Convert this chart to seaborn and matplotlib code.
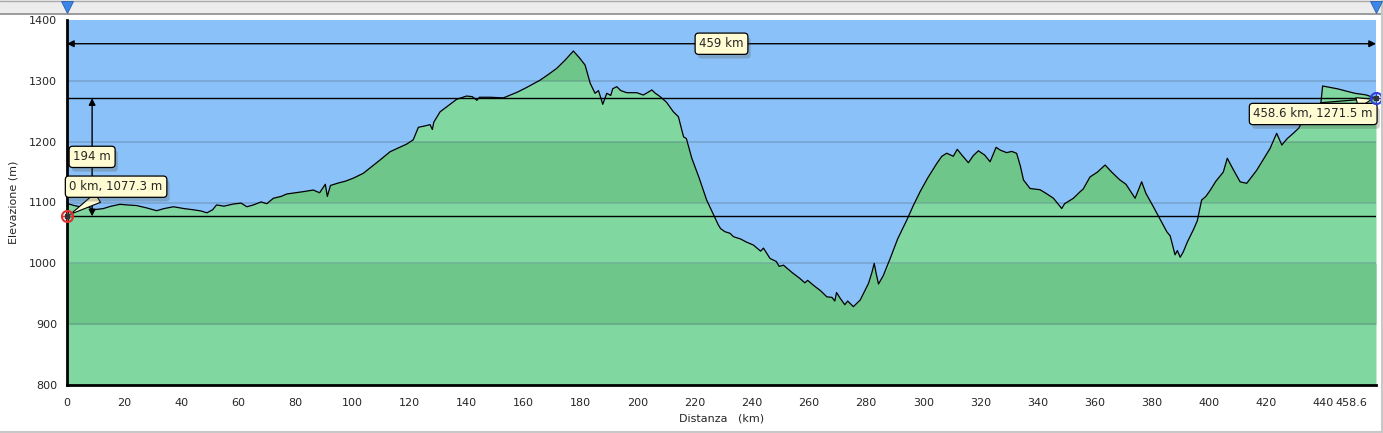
import matplotlib
matplotlib.use("Agg")
import matplotlib.pyplot as plt
import matplotlib.patheffects as pe
import matplotlib.transforms as mtransforms
from matplotlib.lines import Line2D
from matplotlib.patches import Rectangle
import numpy as np
import seaborn as sns

# profilo altimetrico (km, m)
distanza_km = [
    0.0, 0.3, 2.5, 4.6, 6.5, 9.2, 12.7, 15.5, 18.6, 21, 24.4, 28, 31.4, 34, 37.3, 41, 44.3, 47, 49, 51,
    52.4, 55, 58.3, 61, 63, 65.3, 68, 70, 72.3, 75, 77, 80, 83, 86.3, 88.5, 90.5, 91.2, 92.3, 95, 97.5,
    100.3, 103.8, 107, 109.7, 113.2, 116.7, 119, 121.3, 123.1, 125.5, 127.2, 128, 128.5, 130.7, 133.5,
    136.5, 140, 142, 143.6, 144.5, 148.2, 152.9, 155, 157.6, 161, 165.7, 168.5, 171.6, 174.5, 177.4,
    179.5, 181.5, 183.3, 185, 186.2, 187.7, 188.5, 189.1, 190.5, 191.2, 192.6, 194, 196.1, 199.6, 201.9,
    203.5, 204.9, 206, 207.8, 210, 212.4, 214.2, 216, 217, 218.9, 221.5, 224.1, 225, 226.5, 228.2, 229,
    230.5, 232.3, 233.5, 236, 238, 240.5, 243, 244, 246.3, 248.5, 249.5, 251, 254, 256.8, 258.5, 259.5,
    261.5, 264, 266.2, 268, 269, 269.6, 270.9, 272.5, 273.5, 275.5, 277.9, 280.8, 282, 282.8, 283.5,
    284.3, 286, 288.4, 291, 294.2, 296.5, 298.9, 301.5, 304.7, 306.5, 308.2, 310.5, 311.9, 313.5, 315.8,
    317.5, 319.3, 321.5, 323.4, 325.5, 327, 329.2, 331, 332.7, 334, 335.1, 337.4, 340.9, 343, 345.6,
    347.3, 348.5, 349.5, 352.6, 355, 356, 358.4, 361, 363.7, 366, 368.9, 371, 374.2, 376.5, 378, 380.6,
    383, 385.3, 386.5, 388.2, 389, 390, 391.1, 392.5, 394.6, 396, 397.5, 399, 400.5, 402.5, 405.1, 406.5,
    408.5, 411, 413.3, 416.8, 419, 421.5, 423.8, 425.6, 427.5, 429.6, 431.5, 433.1, 435.5, 437.8, 439.3,
    439.9, 445, 451.2, 455, 457.6, 458.6,
]
quota_m = [
    1077.3, 1098, 1095, 1093, 1096, 1088, 1090, 1094, 1097, 1096, 1095, 1091, 1086.5, 1090, 1093, 1090, 1088, 1086, 1083, 1088,
    1096, 1094, 1097.5, 1099, 1093, 1096, 1101, 1098, 1107, 1110, 1114, 1116, 1118, 1120.5, 1116, 1130, 1110, 1128, 1132, 1135,
    1140, 1148, 1160, 1170, 1183.5, 1191, 1196, 1203, 1223.6, 1226, 1228, 1220, 1232, 1249, 1259,
    1269.6, 1275, 1274, 1268, 1273, 1273, 1272, 1276, 1281, 1289, 1301, 1310, 1320.6, 1334, 1349,
    1338, 1326, 1296, 1279.5, 1284, 1261.4, 1272, 1279.5, 1276, 1287, 1290.4, 1284, 1280.5, 1280.5, 1276.7,
    1281, 1285, 1280, 1274, 1265, 1249.3, 1241, 1208, 1205, 1172.7, 1140, 1104, 1095, 1080, 1063, 1057,
    1052, 1049.3, 1043.8, 1040, 1035, 1030, 1020, 1025, 1008, 1003, 995, 997, 985, 975, 968, 972,
    964, 955, 945, 944, 938, 952, 942.5, 932, 938, 928.8, 939.7, 967, 985, 1000, 983,
    966, 980, 1008, 1040, 1071, 1095, 1118, 1140, 1164, 1176, 1181, 1176, 1187.4, 1178, 1165.4,
    1177, 1185, 1178, 1167, 1190.7, 1186, 1182, 1184, 1180.8, 1160, 1137, 1123, 1121, 1115, 1107,
    1097, 1090, 1098, 1107, 1118, 1122, 1142, 1150, 1161.6, 1150, 1137, 1130, 1107, 1134, 1115, 1093,
    1072, 1052, 1045, 1014, 1021, 1010, 1019, 1035, 1055, 1070, 1104, 1110, 1120, 1135, 1150, 1172.7,
    1155, 1134, 1131.5, 1153, 1170, 1189, 1213.7, 1194.5, 1205, 1213.7, 1222, 1235.6, 1248, 1257.5, 1264,
    1291.5, 1287, 1279.5, 1277, 1273, 1271.5,
]
# tratto di rientro della traccia
rientro_km = [439.3, 458.6]
rientro_m = [1264, 1271.5]

inizio = (0.0, 1077.3)
fine = (458.6, 1271.5)
dislivello = 194
lunghezza = 459

xticks = [0, 20, 40, 60, 80, 100, 120, 140, 160, 180, 200, 220, 240, 260, 280, 300, 320, 340, 360, 380, 400, 420, 440, 458.6]
xtick_labels = ['0', '20', '40', '60', '80', '100', '120', '140', '160', '180', '200', '220', '240', '260', '280',
                '300', '320', '340', '360', '380', '400', '420', '440', '458.6']
yticks = [800, 900, 1000, 1100, 1200, 1300, 1400]

sns.set_style('white')
plt.rcParams['font.family'] = ['DejaVu Sans']

x = np.array(distanza_km)
y = np.array(quota_m)

fig = plt.figure(figsize=(13.83, 4.33), dpi=100)
ax = fig.add_axes([67 / 1383, 1 - 385 / 433, (1376 - 67) / 1383, (385 - 20) / 433])
ax.set_facecolor('#8bc1f9')

verde_chiaro = '#80d8a0'
verde_scuro = '#6ec68b'
ax.fill_between(x, 800, y, color=verde_chiaro, lw=0, zorder=1)
for lo, hi in [(900, 1000), (1100, 1200), (1300, 1400)]:
    ax.fill_between(x, lo, np.minimum(y, hi), where=y > lo, interpolate=True,
                    color=verde_scuro, lw=0, zorder=1.2)

for yy in yticks[1:-1]:
    ax.axhline(yy, color='#4f6b80', alpha=0.3, lw=1.3, zorder=1.5)

sns.lineplot(x=x, y=y, sort=False, estimator=None, color='black', lw=0.9, ax=ax, zorder=3)
ax.plot(rientro_km, rientro_m, color='black', lw=0.9, zorder=3)

# linee di riferimento
ax.axhline(inizio[1], color='black', lw=1, zorder=4)
ax.axhline(fine[1], color='black', lw=1, zorder=4)

ax.annotate('', xy=(fine[0], 1361), xytext=(0, 1361),
            arrowprops=dict(arrowstyle='<|-|>', color='black', lw=1, shrinkA=0, shrinkB=0,
                            mutation_scale=10), zorder=5)
ax.annotate('', xy=(8.8, fine[1]), xytext=(8.8, inizio[1]),
            arrowprops=dict(arrowstyle='<|-|>', color='black', lw=1, shrinkA=0, shrinkB=0,
                            mutation_scale=10), zorder=5)

box = dict(boxstyle='round,pad=0.35,rounding_size=0.3', fc='#fffbd2', ec='black', lw=0.9)
ombra = [pe.withSimplePatchShadow(offset=(2, -3), alpha=0.25)]

t1 = ax.text(229.3, 1361, f'{lunghezza} km', ha='center', va='center', fontsize=8.5, bbox=box, zorder=6)
t2 = ax.text(8.8, 1175, f'{dislivello} m', ha='center', va='center', fontsize=8.5, bbox=box, zorder=6)
t3 = ax.annotate(f'{inizio[0]:g} km, {inizio[1]} m', xy=inizio, xytext=(17.2, 1126), ha='center', va='center',
                 fontsize=8.5, bbox=box, zorder=6,
                 arrowprops=dict(arrowstyle='wedge,tail_width=0.9', fc='#fffbd2', ec='black', lw=0.8,
                                 shrinkA=0, shrinkB=3))
t4 = ax.annotate(f'{fine[0]} km, {fine[1]} m', xy=fine, xytext=(436.6, 1245.5), ha='center', va='center',
                 fontsize=8.5, bbox=box, zorder=6,
                 arrowprops=dict(arrowstyle='wedge,tail_width=0.9', fc='#fffbd2', ec='black', lw=0.8,
                                 shrinkA=0, shrinkB=3))
for t in (t1, t2, t3, t4):
    t.get_bbox_patch().set_path_effects(ombra)

# marcatori inizio / fine
for (px, py), col in [(inizio, '#e03030'), (fine, '#3040e0')]:
    ax.plot(px, py, marker='o', ms=8, mfc='none', mec=col, mew=1.5, clip_on=False, zorder=7)
    ax.plot(px, py, marker='+', ms=8, color=col, mew=1, clip_on=False, zorder=7)
    ax.plot(px, py, marker='s', ms=2.5, color='#333333', clip_on=False, zorder=8)

ax.set_xlim(0, 458.6)
ax.set_ylim(800, 1400)
ax.set_xticks(xticks)
ax.set_xticklabels(xtick_labels)
ax.set_yticks(yticks)
ax.tick_params(axis='both', labelsize=8, length=4, width=1.5, direction='out', color='black', pad=3)
ax.tick_params(axis='x', pad=5)
# l'ultima etichetta è spostata a sinistra per restare nel riquadro
ultima = ax.get_xticklabels()[-1]
ultima.set_transform(ultima.get_transform() + mtransforms.ScaledTranslation(-0.25, 0, fig.dpi_scale_trans))
for s in ['top', 'right']:
    ax.spines[s].set_visible(False)
for s in ['left', 'bottom']:
    ax.spines[s].set_linewidth(2)
    ax.spines[s].set_color('black')

ax.set_xlabel('Distanza   (km)', fontsize=8, labelpad=4)
ax.set_ylabel('Elevazione (m)', fontsize=8, labelpad=8)

# barra superiore e cornice
fig.add_artist(Rectangle((0, 1 - 13 / 433), 1, 13 / 433, transform=fig.transFigure,
                         fc='#ececec', ec='none', zorder=0))
fig.add_artist(Line2D([0, 1], [1 - 13.5 / 433] * 2, transform=fig.transFigure, color='#8a8a8a', lw=1.2))
fig.add_artist(Line2D([0, 1], [1 - 0.5 / 433] * 2, transform=fig.transFigure, color='#aaaaaa', lw=1))
fig.add_artist(Line2D([0, 1], [1.5 / 433] * 2, transform=fig.transFigure, color='#c8c8c8', lw=1.5))
fig.add_artist(Line2D([1 - 1.5 / 1383] * 2, [0, 1], transform=fig.transFigure, color='#c8c8c8', lw=1.5))
for xp in (67, 1376):
    fig.add_artist(Line2D([xp / 1383], [1 - 7 / 433], transform=fig.transFigure, marker='v', ms=9,
                          color='#3b86e6', mec='#2a5fb0', mew=0.6, ls='none'))

fig.savefig('out.png', dpi=100)
